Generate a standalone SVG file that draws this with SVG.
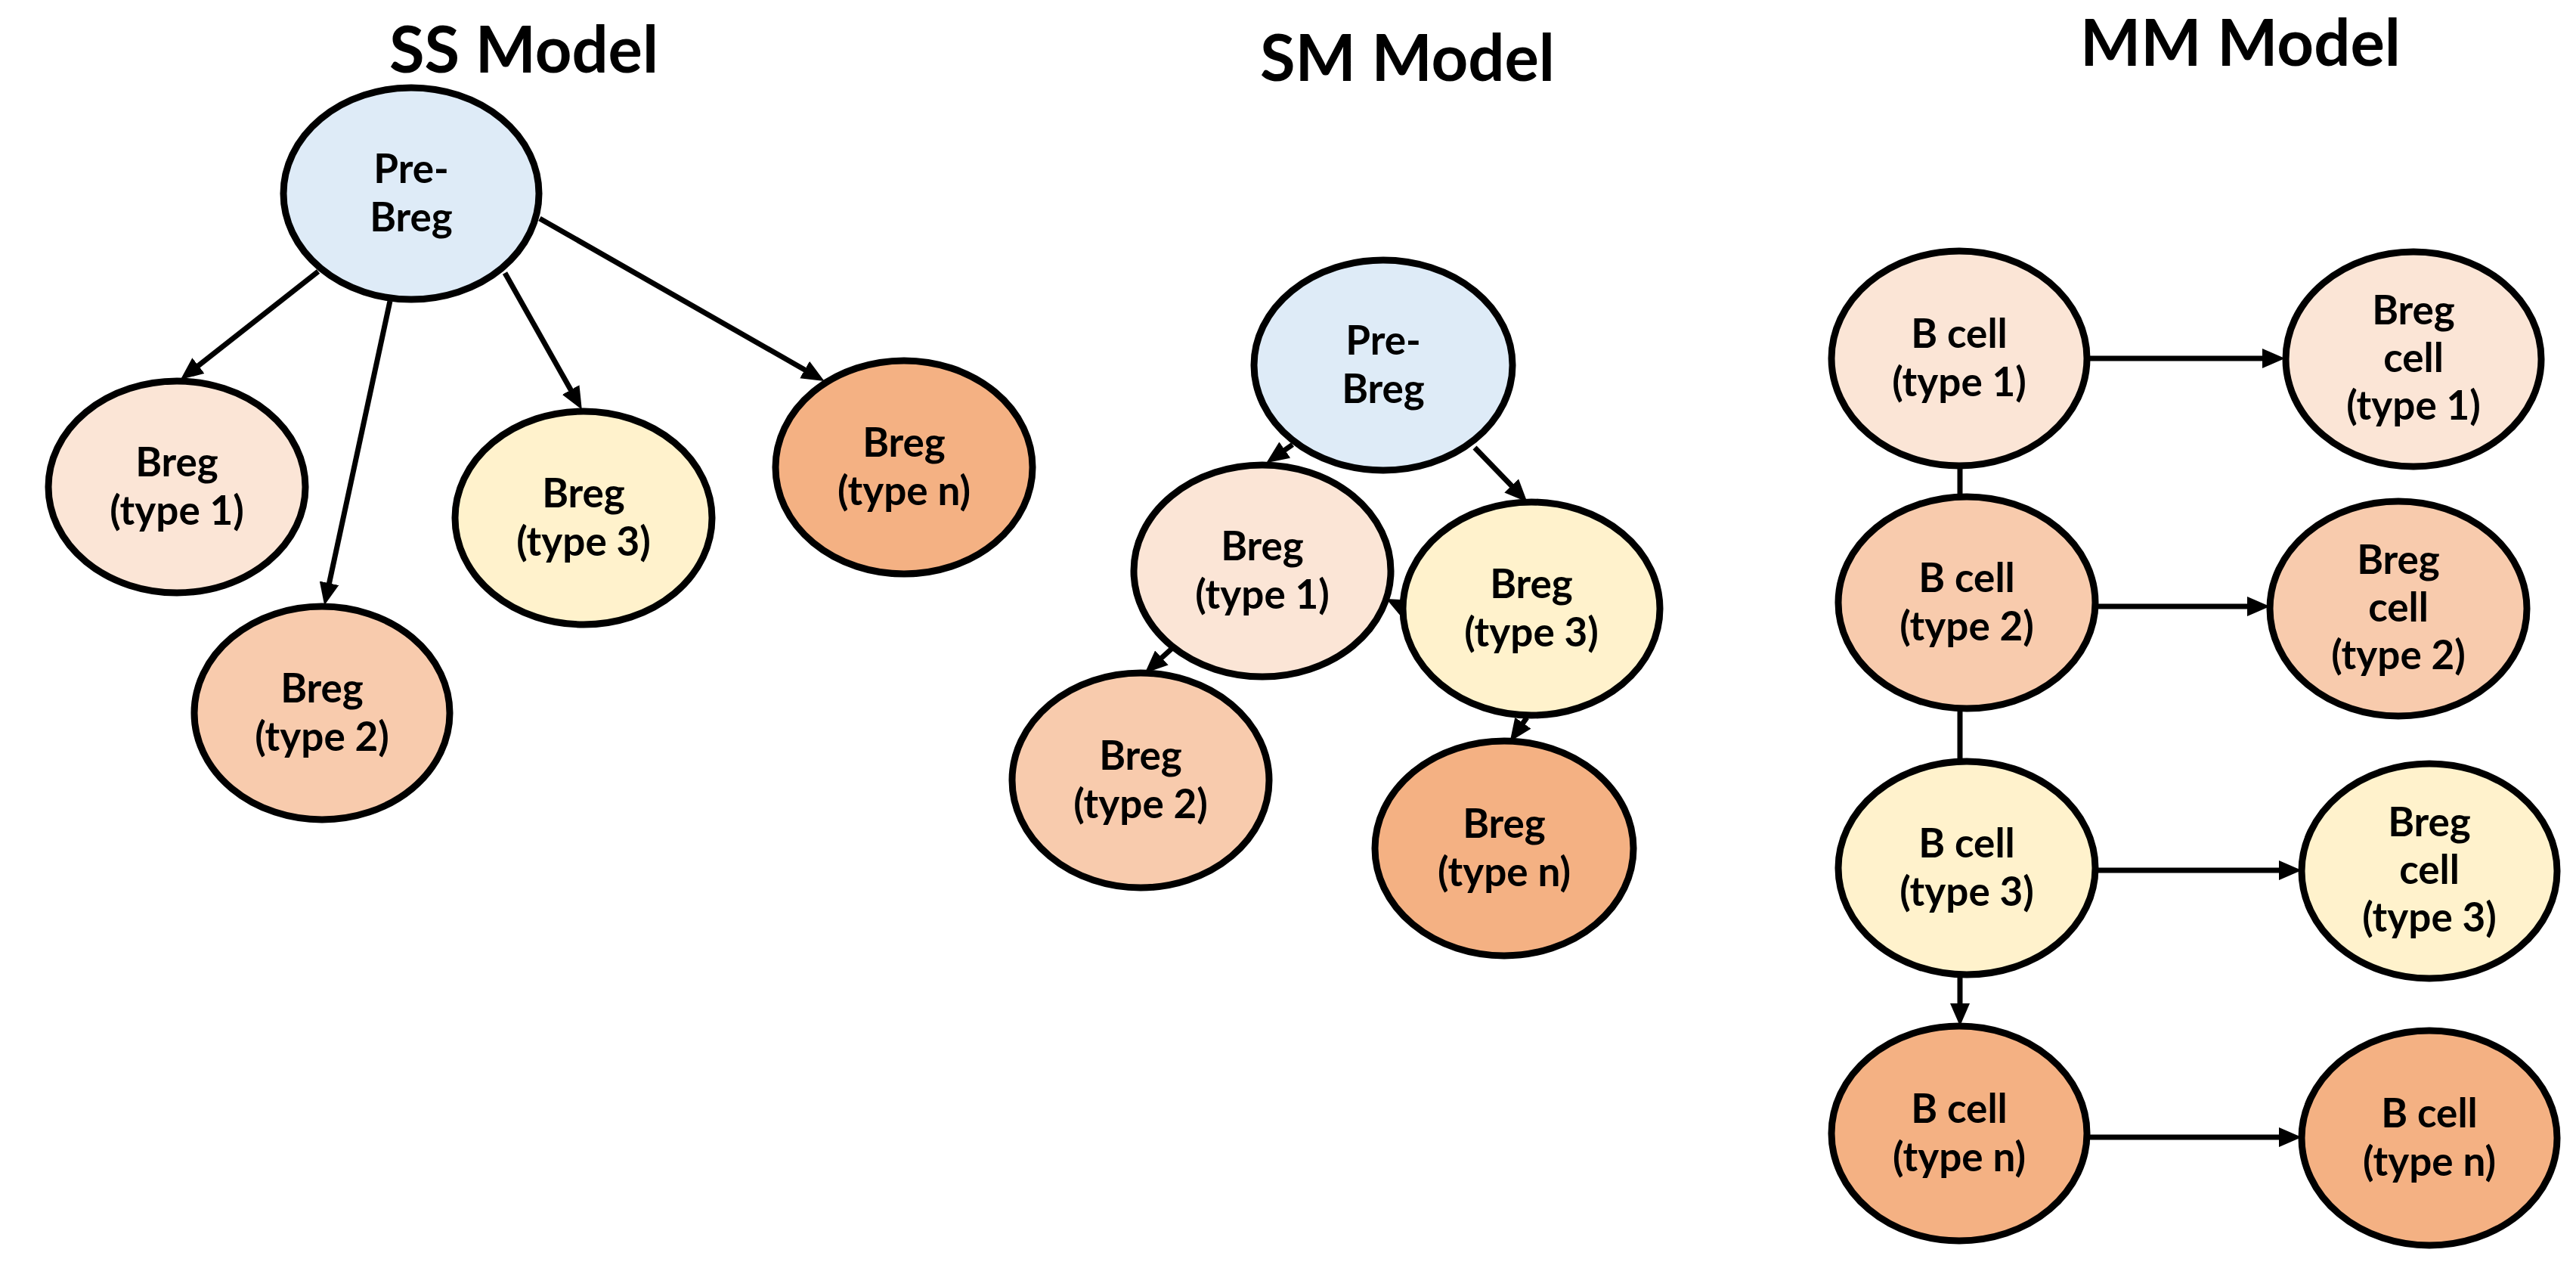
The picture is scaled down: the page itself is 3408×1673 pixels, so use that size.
<svg xmlns="http://www.w3.org/2000/svg" width="3408" height="1673" viewBox="0 0 3408 1673">
<style>
.bg{fill:#ffffff}
.n{stroke:#000;stroke-width:9}
.pre{fill:#DEEBF7}
.t1{fill:#FBE5D6}
.t2{fill:#F8CBAD}
.t3{fill:#FFF2CC}
.tn{fill:#F4B183}
.lbl{font-family:Lato,"Liberation Sans",sans-serif;font-weight:700;font-size:53px;fill:#000;text-anchor:middle}
.title{font-family:Lato,"Liberation Sans",sans-serif;font-weight:700;font-size:86px;fill:#000;text-anchor:middle}
.c{stroke:#000;stroke-width:7;fill:none}
.a{marker-end:url(#ah)}
</style>
<defs>
<marker id="ah" markerUnits="userSpaceOnUse" viewBox="0 0 30 26" markerWidth="30" markerHeight="26" refX="12" refY="13" orient="auto">
<path d="M0,0 L30,13 L0,26 z" fill="#000"/>
</marker>
</defs>
<rect class="bg" x="0" y="0" width="3408" height="1673"/>

<g id="titles">
<text class="title" x="693" y="96" textLength="356" lengthAdjust="spacingAndGlyphs">SS Model</text>
<text class="title" x="1862" y="107" textLength="390" lengthAdjust="spacingAndGlyphs">SM Model</text>
<text class="title" x="2964" y="87" textLength="424" lengthAdjust="spacingAndGlyphs">MM Model</text>
</g>

<g id="connectors">
<line class="c a" x1="421" y1="359" x2="253" y2="491"/>
<line class="c a" x1="516" y1="398" x2="433" y2="783"/>
<line class="c a" x1="668" y1="361" x2="761" y2="526"/>
<line class="c a" x1="714" y1="289" x2="1075" y2="495"/>

<line class="c a" x1="1710" y1="588" x2="1690" y2="602"/>
<line class="c a" x1="1951" y1="592" x2="2008" y2="651"/>
<line class="c a" x1="1858" y1="804" x2="1850" y2="800"/>
<line class="c a" x1="1550" y1="858" x2="1528" y2="878"/>
<line class="c a" x1="2020" y1="949" x2="2008" y2="966"/>

<line class="c a" x1="2763" y1="474" x2="3005" y2="474"/>
<line class="c a" x1="2772" y1="802" x2="2985" y2="802"/>
<line class="c a" x1="2772" y1="1151" x2="3027" y2="1151"/>
<line class="c a" x1="2763" y1="1504" x2="3027" y2="1504"/>
<line class="c" x1="2593" y1="615" x2="2593" y2="659"/>
<line class="c" x1="2593" y1="936" x2="2593" y2="1009"/>
<line class="c a" x1="2593" y1="1289" x2="2593" y2="1339"/>
</g>

<g id="ss-pre"><ellipse class="n pre" cx="544" cy="256" rx="169" ry="140"/><text class="lbl" x="544" y="242">Pre-</text><text class="lbl" x="544" y="306">Breg</text></g>
<g id="ss-t1"><ellipse class="n t1" cx="234" cy="644" rx="170" ry="140"/><text class="lbl" x="234" y="630">Breg</text><text class="lbl" x="234" y="694">(type 1)</text></g>
<g id="ss-t2"><ellipse class="n t2" cx="426" cy="943" rx="169" ry="141"/><text class="lbl" x="426" y="929">Breg</text><text class="lbl" x="426" y="993">(type 2)</text></g>
<g id="ss-t3"><ellipse class="n t3" cx="772" cy="685" rx="170" ry="141"/><text class="lbl" x="772" y="671">Breg</text><text class="lbl" x="772" y="735">(type 3)</text></g>
<g id="ss-tn"><ellipse class="n tn" cx="1196" cy="618" rx="170" ry="141"/><text class="lbl" x="1196" y="604">Breg</text><text class="lbl" x="1196" y="668">(type n)</text></g>

<g id="sm-pre"><ellipse class="n pre" cx="1830" cy="483" rx="171" ry="139"/><text class="lbl" x="1830" y="469">Pre-</text><text class="lbl" x="1830" y="533">Breg</text></g>
<g id="sm-t1"><ellipse class="n t1" cx="1670" cy="755" rx="170" ry="140"/><text class="lbl" x="1670" y="741">Breg</text><text class="lbl" x="1670" y="805">(type 1)</text></g>
<g id="sm-t3"><ellipse class="n t3" cx="2026" cy="805" rx="170" ry="141"/><text class="lbl" x="2026" y="791">Breg</text><text class="lbl" x="2026" y="855">(type 3)</text></g>
<g id="sm-t2"><ellipse class="n t2" cx="1509" cy="1032" rx="170" ry="142"/><text class="lbl" x="1509" y="1018">Breg</text><text class="lbl" x="1509" y="1082">(type 2)</text></g>
<g id="sm-tn"><ellipse class="n tn" cx="1990" cy="1122" rx="171" ry="142"/><text class="lbl" x="1990" y="1108">Breg</text><text class="lbl" x="1990" y="1172">(type n)</text></g>

<g id="mm-b1"><ellipse class="n t1" cx="2592" cy="474" rx="169" ry="142"/><text class="lbl" x="2592" y="460">B cell</text><text class="lbl" x="2592" y="524">(type 1)</text></g>
<g id="mm-r1"><ellipse class="n t1" cx="3193" cy="475" rx="169" ry="142"/><text class="lbl" x="3193" y="429">Breg</text><text class="lbl" x="3193" y="492">cell</text><text class="lbl" x="3193" y="555">(type 1)</text></g>
<g id="mm-b2"><ellipse class="n t2" cx="2602" cy="797" rx="170" ry="140"/><text class="lbl" x="2602" y="783">B cell</text><text class="lbl" x="2602" y="847">(type 2)</text></g>
<g id="mm-r2"><ellipse class="n t2" cx="3173" cy="805" rx="170" ry="142"/><text class="lbl" x="3173" y="759">Breg</text><text class="lbl" x="3173" y="822">cell</text><text class="lbl" x="3173" y="885">(type 2)</text></g>
<g id="mm-b3"><ellipse class="n t3" cx="2602" cy="1148" rx="170" ry="141"/><text class="lbl" x="2602" y="1134">B cell</text><text class="lbl" x="2602" y="1198">(type 3)</text></g>
<g id="mm-r3"><ellipse class="n t3" cx="3214" cy="1152" rx="169" ry="142"/><text class="lbl" x="3214" y="1106">Breg</text><text class="lbl" x="3214" y="1169">cell</text><text class="lbl" x="3214" y="1232">(type 3)</text></g>
<g id="mm-bn"><ellipse class="n tn" cx="2592" cy="1499" rx="169" ry="142"/><text class="lbl" x="2592" y="1485">B cell</text><text class="lbl" x="2592" y="1549">(type n)</text></g>
<g id="mm-rn"><ellipse class="n tn" cx="3214" cy="1505" rx="169" ry="142"/><text class="lbl" x="3214" y="1491">B cell</text><text class="lbl" x="3214" y="1555">(type n)</text></g>
</svg>
